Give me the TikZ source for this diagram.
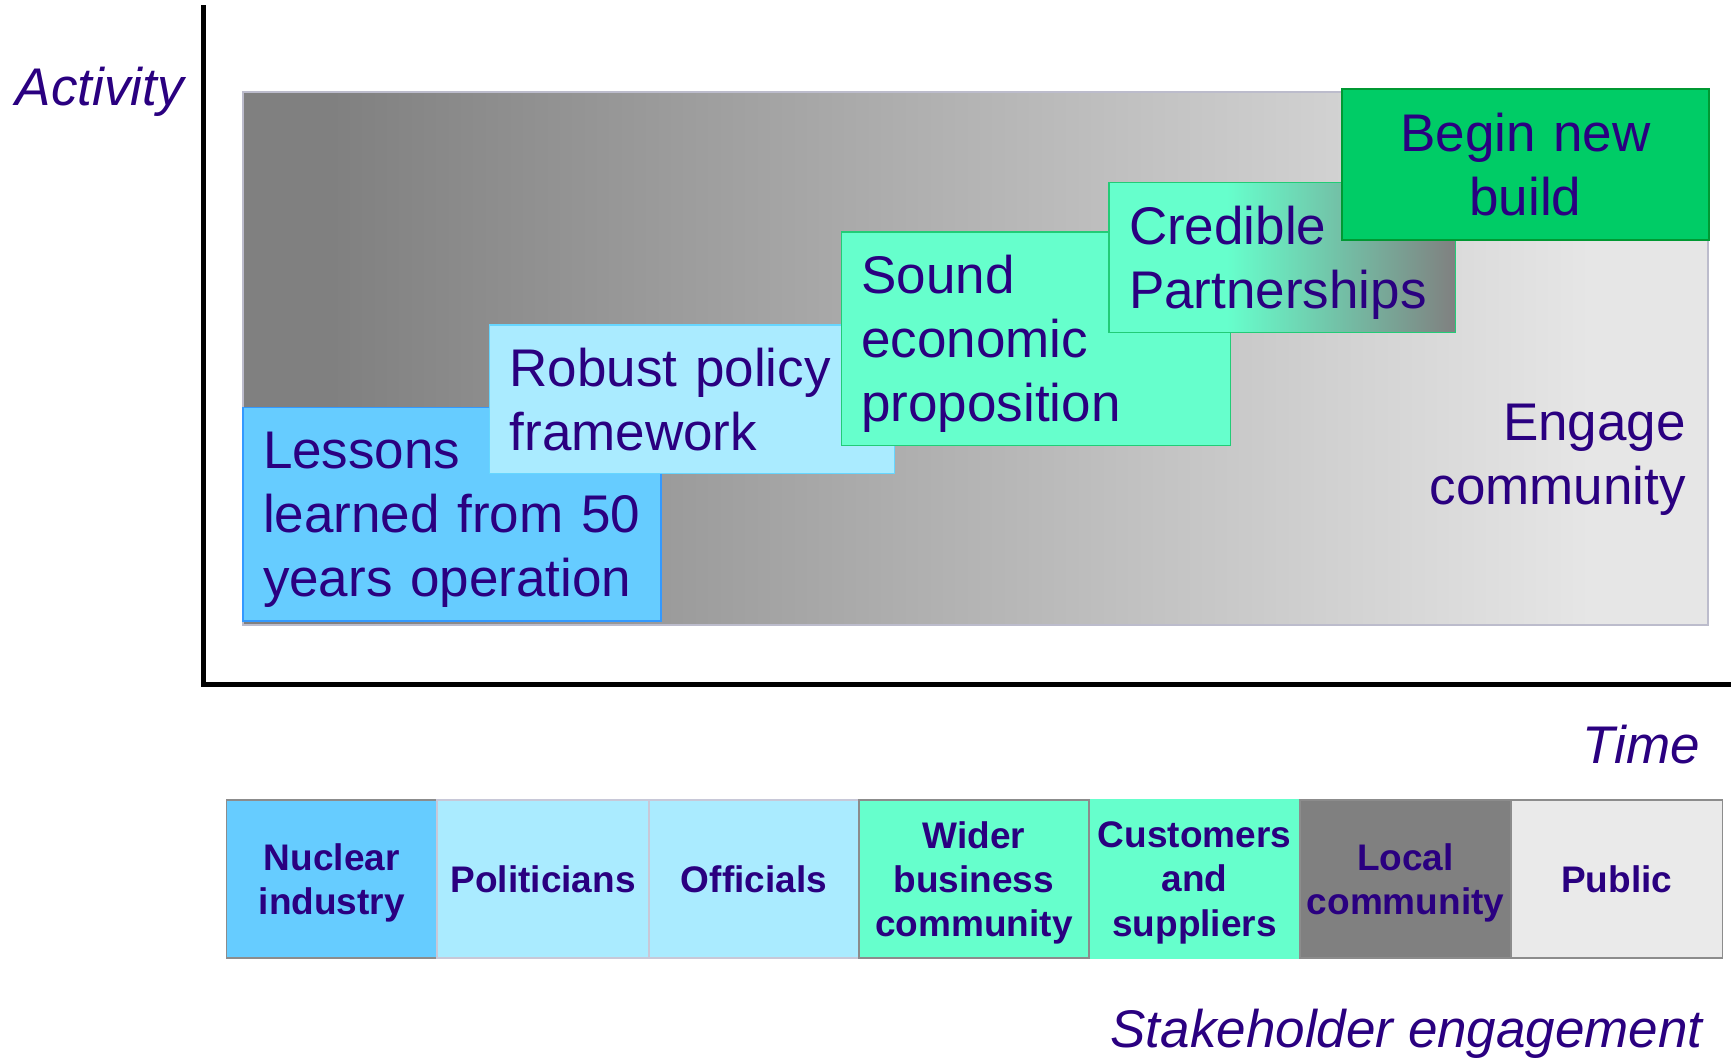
\documentclass[tikz,border=0pt]{standalone}
\usepackage{fontspec}
\setmainfont{Liberation Sans}

\definecolor{ink}{HTML}{2A0080}
\definecolor{fielddark}{HTML}{808080}
\definecolor{fieldlight}{HTML}{E6E6E6}
\definecolor{fieldedge}{HTML}{BCBCCC}
\definecolor{skyblue}{HTML}{66CCFF}
\definecolor{skyedge}{HTML}{3399FF}
\definecolor{paleblue}{HTML}{AAEBFF}
\definecolor{paleedge}{HTML}{66D6FF}
\definecolor{mint}{HTML}{66FFCC}
\definecolor{mintedge}{HTML}{22CC77}
\definecolor{buildgreen}{HTML}{00CC66}
\definecolor{buildedge}{HTML}{009933}
\definecolor{midgray}{HTML}{808080}
\definecolor{lightgray}{HTML}{EAEAEA}
\definecolor{cellgray}{HTML}{8C8C8C}
\definecolor{celledge}{HTML}{C8C8D8}

\pgfdeclarehorizontalshading{fieldshade}{100bp}{color(0bp)=(fielddark); color(28bp)=(fielddark); color(71bp)=(fieldlight); color(100bp)=(fieldlight)}
\pgfdeclarehorizontalshading{partnershade}{100bp}{color(0bp)=(mint); color(42bp)=(mint); color(75bp)=(midgray); color(100bp)=(midgray)}

\newcommand*{\BoxFont}{\fontsize{53}{64}\selectfont}
\newcommand*{\CellFont}{\bfseries\fontsize{37}{44.4}\selectfont}
% drop the depth of the last line, so the lines sit as in the slide
\newcommand*{\NoDepth}{\par\kern-\prevdepth}

\begin{document}
\begin{tikzpicture}[x=1pt,y=-1pt,
    stage/.style={draw, line width=1.5pt, anchor=north west, inner xsep=20pt,
      inner ysep=0pt, outer sep=0pt, align=left, font=\BoxFont, text=ink},
    cell/.style={draw, line width=1.5pt, anchor=north west, minimum height=158pt,
      inner xsep=2pt, inner ysep=0pt, outer sep=0pt, text depth=0pt, align=center,
      font=\CellFont, text=ink},
    axislabel/.style={font=\BoxFont\itshape, text=ink, inner sep=0pt}]
  \useasboundingbox (0,0) rectangle (1731,1058);

  % axes
  \coordinate (ytop) at (203.6,5);
  \coordinate (xend) at (1731,684.5);
  \draw[line width=5pt] (ytop) |- (xend);
  \node[axislabel, anchor=base west] (activity) at (15.6,105) {Activity};
  \node[axislabel, anchor=base east] (time) at (1700,763) {Time};

  % activity field
  \shadedraw[shading=fieldshade, draw=fieldedge, line width=2pt] (243,91.6) rectangle (1708,624.5);

  % stages
  \node[stage, fill=skyblue, draw=skyedge, text width=378pt, minimum height=213.4pt] (lessons) at (243,407.6)
    {Lessons\\\mbox{learned from 50}\\years operation\NoDepth};
  \node[stage, fill=paleblue, draw=paleedge, text width=365pt, minimum height=148.6pt] (policy) at (489.7,325)
    {Robust policy\\framework\NoDepth};
  \node[stage, fill=mint, draw=mintedge, text width=349.2pt, minimum height=213.5pt] (economic) at (841.4,232)
    {Sound\\economic\\proposition\NoDepth};
  \node[stage, shade, shading=partnershade, draw=mintedge, text width=306.5pt, minimum height=150pt] (partners) at (1109,182.6)
    {Credible\\Partnerships\NoDepth};
  \node[stage, fill=buildgreen, draw=buildedge, align=center, text width=327pt, minimum height=151pt] (newbuild) at (1342,89)
    {Begin new\\build\NoDepth};
  \node[anchor=north east, align=right, font=\BoxFont, text=ink, inner sep=0pt] (engage) at (1686,404)
    {Engage\\community};

  % stakeholders
  \node[cell, fill=skyblue, draw=cellgray, minimum width=210.8pt] (nuclear) at (226.4,800) {Nuclear\\industry};
  \node[cell, fill=paleblue, draw=celledge, minimum width=211.8pt] (politicians) at (437.2,800) {Politicians};
  \node[cell, fill=paleblue, draw=celledge, minimum width=209.8pt] (officials) at (649,800) {Officials};
  \node[cell, fill=mint, draw=mint, minimum width=211pt] (customers) at (1089,800) {Customers\\and\\suppliers};
  \node[cell, fill=midgray, draw=cellgray, minimum width=211pt] (local) at (1300,800) {Local\\community};
  \node[cell, fill=lightgray, draw=cellgray, minimum width=211.6pt] (public) at (1511,800) {Public};
  \node[cell, fill=mint, draw=cellgray, minimum width=230.2pt] (wider) at (858.8,800) {Wider\\business\\community};
  \node[axislabel, anchor=base east] (stakeholders) at (1703,1047) {Stakeholder engagement};
\end{tikzpicture}
\end{document}
